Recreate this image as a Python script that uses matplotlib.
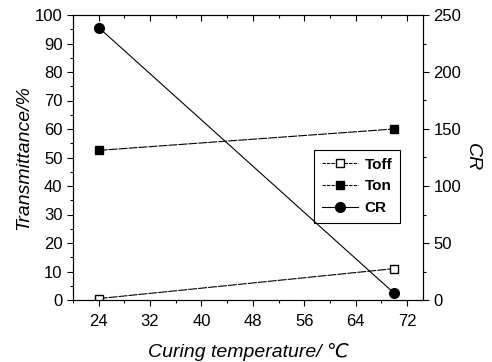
import matplotlib.pyplot as plt
from matplotlib.ticker import MultipleLocator
from matplotlib.lines import Line2D

plt.rcParams['font.family'] = ['Liberation Sans', 'DejaVu Sans']

# curing temperature (C) and measured values
temp = [24, 70]
t_off = [0.5, 11]
t_on = [52.5, 60]
cr = [239, 6]

fig = plt.figure(figsize=(4.92, 3.62), dpi=100)
ax = fig.add_axes((73 / 492, 62 / 362, 350 / 492, 285 / 362))
ax2 = ax.twinx()

ax.plot(temp, t_off, color='k', lw=0.8, ls=(0, (8, 1)), marker='s', mfc='white', mec='k', ms=6)
ax.plot(temp, t_on, color='k', lw=0.8, ls=(0, (8, 1)), marker='s', mfc='k', mec='k', ms=6)
ax2.plot(temp, cr, color='k', lw=0.8, marker='o', ms=7)

ax.set_xlim(20, 74.5)
ax.set_ylim(0, 100)
ax2.set_ylim(0, 250)
ax.xaxis.set_major_locator(MultipleLocator(8))
ax.xaxis.set_minor_locator(MultipleLocator(4))
ax.yaxis.set_major_locator(MultipleLocator(10))
ax.yaxis.set_minor_locator(MultipleLocator(5))
ax2.yaxis.set_major_locator(MultipleLocator(50))
ax2.yaxis.set_minor_locator(MultipleLocator(25))

for a in (ax, ax2):
    a.tick_params(which='major', direction='out', length=4, width=0.8, labelsize=12)
    a.tick_params(which='minor', direction='out', length=2, width=0.8)
    for s in a.spines.values():
        s.set_linewidth(0.8)
ax.tick_params(axis='x', which='both', top=True)
ax.tick_params(axis='x', which='major', pad=6)
# top ticks point inward
for t in ax.xaxis.get_major_ticks() + ax.xaxis.get_minor_ticks():
    t.tick2line.set_marker(3)

ax.set_xlabel('Curing temperature/ \u2103', fontsize=14, style='italic', labelpad=10)
ax.set_ylabel('Transmittance/%', fontsize=14, style='italic', labelpad=2)
ax2.set_ylabel('CR', fontsize=14, style='italic', rotation=270, labelpad=14)

handles = [
    Line2D([], [], color='k', lw=0.8, ls=(0, (3, 1)), marker='s', mfc='white', mec='k', ms=6),
    Line2D([], [], color='k', lw=0.8, ls=(0, (3, 1)), marker='s', mfc='k', ms=6),
    Line2D([], [], color='k', lw=0.8, marker='o', ms=7),
]
leg = ax.legend(handles, ['Toff', 'Ton', 'CR'], loc='upper left', bbox_to_anchor=(0.689, 0.526),
                frameon=True, fancybox=False, edgecolor='k', framealpha=1,
                prop={'weight': 'bold', 'size': 11}, handlelength=2.4, handletextpad=0.4,
                labelspacing=0.5, borderpad=0.5, borderaxespad=0)
leg.get_frame().set_linewidth(0.8)

fig.savefig('out.png', dpi=100)
